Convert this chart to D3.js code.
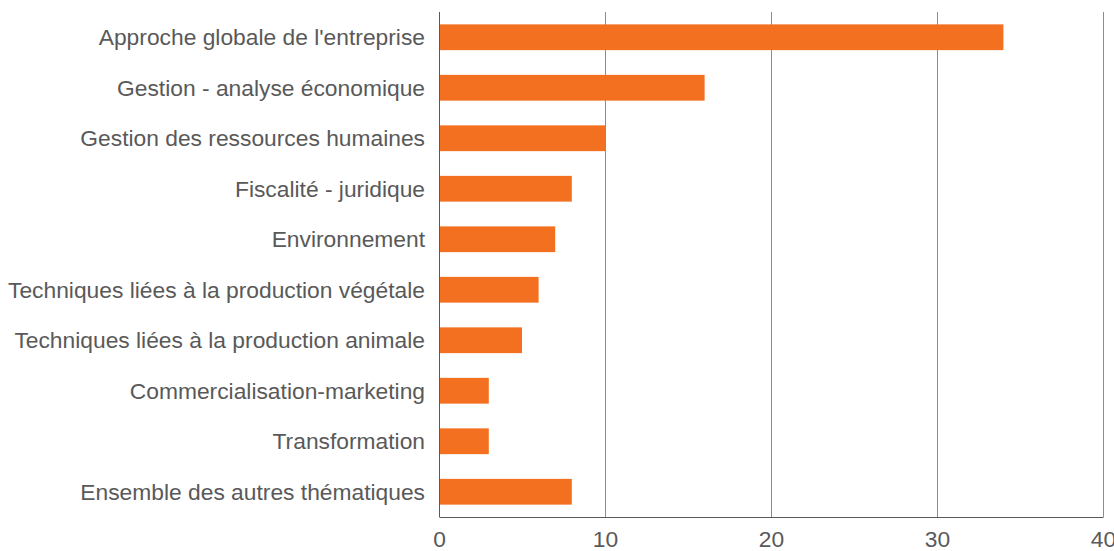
<!DOCTYPE html>
<html>
<head>
<meta charset="utf-8">
<script src="https://cdn.jsdelivr.net/npm/d3@7"></script>
<style>
  body { margin: 0; background: #fff; }
  svg text { font-family: "Liberation Sans", Arial, sans-serif; fill: #595959; }
</style>
</head>
<body>
<svg id="chart"></svg>
<script>
const categories = [
  "Approche globale de l'entreprise",
  "Gestion - analyse économique",
  "Gestion des ressources humaines",
  "Fiscalité - juridique",
  "Environnement",
  "Techniques liées à la production végétale",
  "Techniques liées à la production animale",
  "Commercialisation-marketing",
  "Transformation",
  "Ensemble des autres thématiques",
];
const values = [34, 16, 10, 8, 7, 6, 5, 3, 3, 8];
const xTicks = [0, 10, 20, 30, 40];

const width = 1114,
  height = 551,
  margin = { top: 12, right: 11, bottom: 34, left: 439 },
  innerWidth = width - margin.left - margin.right,
  innerHeight = height - margin.top - margin.bottom;

const svg = d3.select("#chart").attr("width", width).attr("height", height);
const g = svg.append("g").attr("transform", `translate(${margin.left},${margin.top})`);

const x = d3.scaleLinear().domain([0, 40]).range([0, innerWidth]);
const y = d3.scaleBand().domain(categories).range([0, innerHeight]).paddingInner(0.49).paddingOuter(0.245);

// vertical grid lines
g.selectAll(".grid")
  .data(xTicks.slice(1))
  .join("line")
  .attr("class", "grid")
  .attr("x1", (d) => Math.round(x(d)) + 0.5)
  .attr("x2", (d) => Math.round(x(d)) + 0.5)
  .attr("y1", 0)
  .attr("y2", innerHeight)
  .attr("stroke", "#8c8c8c")
  .attr("stroke-width", 1);

g.selectAll(".bar")
  .data(values)
  .join("rect")
  .attr("class", "bar")
  .attr("x", 0)
  .attr("y", (d, i) => y(categories[i]))
  .attr("width", (d) => x(d))
  .attr("height", y.bandwidth())
  .attr("fill", "#f37021");

// y axis line + labels
g.append("line")
  .attr("x1", 0.5).attr("x2", 0.5)
  .attr("y1", 0).attr("y2", innerHeight)
  .attr("stroke", "#595959");

g.selectAll(".ylab")
  .data(categories)
  .join("text")
  .attr("class", "ylab")
  .attr("x", -14)
  .attr("y", (d) => y(d) + y.bandwidth() / 2)
  .attr("dy", "0.35em")
  .attr("text-anchor", "end")
  .style("font-size", "22.8px")
  .text((d) => d);

// x axis
const xAxis = g.append("g")
  .attr("transform", `translate(0,${innerHeight})`)
  .call(d3.axisBottom(x).tickValues(xTicks).tickSize(0).tickPadding(14));
xAxis.select(".domain").attr("stroke", "#595959");
xAxis.selectAll("text")
  .style("font-size", "22.8px")
  .style("font-family", "Liberation Sans, Arial, sans-serif")
  .attr("fill", "#595959");
</script>
</body>
</html>
